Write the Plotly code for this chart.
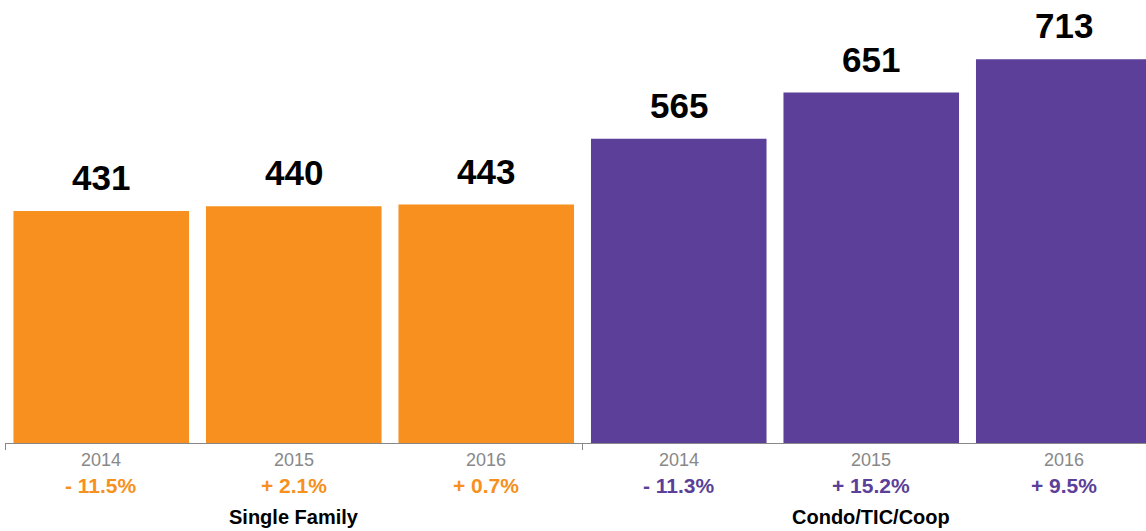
import plotly.graph_objects as go

categories = ["2014", "2015", "2016", "2014", "2015", "2016"]
values = [431, 440, 443, 565, 651, 713]
changes = ["- 11.5%", "+ 2.1%", "+ 0.7%", "- 11.3%", "+ 15.2%", "+ 9.5%"]
groups = ["Single Family", "Condo/TIC/Coop"]

ORANGE = "#F7901E"
PURPLE = "#5B3F99"
colors = [ORANGE] * 3 + [PURPLE] * 3
FONT = "Liberation Sans, Arial, Helvetica, sans-serif"

xs = list(range(len(values)))

fig = go.Figure()
fig.add_trace(go.Bar(x=xs, y=values, marker=dict(color=colors, line=dict(width=0)),
                     hoverinfo="skip", showlegend=False))

ann = []
for i, v in enumerate(values):
    ann.append(dict(x=i, y=v, xref="x", yref="y", text=f"<b>{v}</b>", showarrow=False,
                    yanchor="bottom", yshift=12, font=dict(family=FONT, size=35, color="#000000")))
    ann.append(dict(x=i, y=0, xref="x", yref="paper", text=categories[i], showarrow=False,
                    yanchor="middle", yshift=-17, font=dict(family=FONT, size=18, color="#888888")))
    ann.append(dict(x=i, y=0, xref="x", yref="paper", text=f"<b>{changes[i]}</b>", showarrow=False,
                    yanchor="middle", yshift=-42, font=dict(family=FONT, size=21, color=colors[i])))
for g, name in enumerate(groups):
    ann.append(dict(x=g * 3 + 1, y=0, xref="x", yref="paper", text=f"<b>{name}</b>", showarrow=False,
                    yanchor="middle", yshift=-74, font=dict(family=FONT, size=20, color="#000000")))

fig.update_layout(
    width=1146, height=531,
    margin=dict(l=5, r=0, t=0, b=88),
    plot_bgcolor="white", paper_bgcolor="white",
    bargap=0.088,
    annotations=ann,
    xaxis=dict(range=[-0.5, -0.5 + 1141 / 192.5], showgrid=False, zeroline=False,
               showline=True, linecolor="#888888", linewidth=1,
               tickmode="array", tickvals=[-0.5, 2.5], ticks="outside", ticklen=6,
               tickcolor="#888888", showticklabels=False, fixedrange=True),
    yaxis=dict(range=[0, 823], visible=False, showgrid=False, zeroline=False, fixedrange=True),
)

fig.write_html("out.html", config={"displayModeBar": False},
               post_script="document.body.style.margin='0';document.body.style.overflow='hidden';")
